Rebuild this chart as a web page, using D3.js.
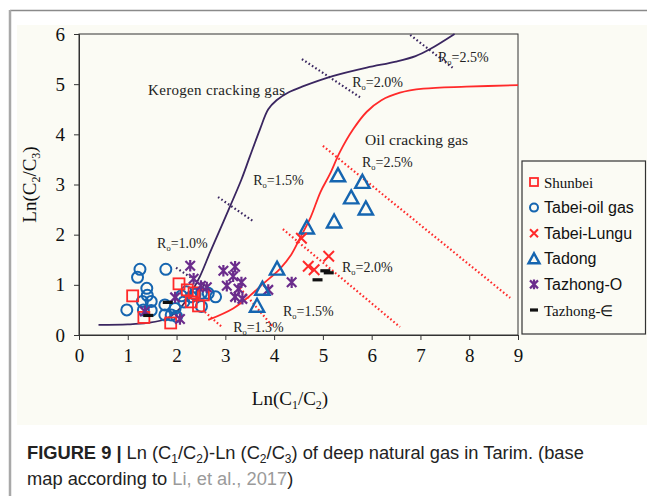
<!DOCTYPE html>
<html>
<head>
<meta charset="utf-8">
<script src="https://cdn.jsdelivr.net/npm/d3@7"></script>
<style>
  html, body { margin: 0; padding: 0; background: #ffffff; }
  svg { display: block; }
</style>
</head>
<body>
<svg id="chart" width="647" height="496"></svg>
<script>
// ---- data ----
const xTicks = [0, 1, 2, 3, 4, 5, 6, 7, 8, 9];
const yTicks = [0, 1, 2, 3, 4, 5, 6];

// [Ln(C1/C2), Ln(C2/C3)]
const shunbei = [[1.10, 0.78], [1.33, 0.35], [1.88, 0.24], [2.05, 1.02], [2.22, 0.90],
                 [2.36, 0.84], [2.30, 0.66], [2.45, 0.58], [2.55, 0.80]];
const tabeiOilGas = [[0.98, 0.50], [1.20, 1.15], [1.25, 1.31], [1.39, 0.93], [1.40, 0.79],
                     [1.30, 0.67], [1.48, 0.67], [1.32, 0.50], [1.48, 0.49], [1.78, 1.31],
                     [1.76, 0.60], [1.76, 0.40], [1.89, 0.40], [2.00, 0.37], [1.97, 0.53],
                     [2.10, 0.78], [2.20, 0.86], [2.30, 0.76], [2.38, 0.81], [2.51, 0.83],
                     [2.65, 0.83], [2.80, 0.76], [2.51, 0.57], [2.15, 0.66]];
const tabeiLungu = [[4.56, 1.93], [5.12, 1.57], [4.70, 1.37], [4.82, 1.30]];
const tadong = [[5.31, 3.18], [5.81, 3.05], [5.58, 2.74], [5.88, 2.52], [5.23, 2.26],
                [4.67, 2.14], [4.06, 1.32], [3.76, 0.92], [3.65, 0.58]];
const tazhongO = [[1.35, 0.47], [1.97, 0.75], [2.07, 0.32], [2.28, 1.38], [2.35, 1.12],
                  [2.50, 0.98], [2.62, 0.95], [2.96, 1.28], [3.20, 1.36], [3.16, 1.17],
                  [3.03, 0.98], [3.33, 1.05], [3.27, 0.92], [3.20, 0.76], [3.35, 0.72],
                  [3.88, 0.90], [4.36, 1.05]];
const tazhongCambrian = [[1.42, 0.39], [1.82, 0.65], [5.05, 1.28], [5.12, 1.24], [4.89, 1.10]];

// evolution trends of the two gas sources
const kerogenCurve = [[0.40, 0.20], [1.00, 0.21], [1.40, 0.24], [1.80, 0.33], [2.07, 0.53],
                      [2.27, 0.80], [2.48, 1.17], [2.68, 1.63], [2.89, 2.10], [3.09, 2.55],
                      [3.33, 3.10], [3.50, 3.55], [3.71, 4.10], [3.88, 4.50], [4.05, 4.68],
                      [4.30, 4.84], [4.60, 4.96], [5.20, 5.16], [5.90, 5.33], [6.50, 5.45],
                      [6.90, 5.56], [7.20, 5.70], [7.70, 6.00]];
const oilCurve = [[2.65, 0.30], [3.16, 0.53], [3.50, 0.78], [3.75, 1.00], [4.12, 1.32],
                  [4.35, 1.60], [4.53, 1.93], [4.75, 2.35], [4.95, 2.85], [5.14, 3.20],
                  [5.35, 3.65], [5.62, 4.10], [5.90, 4.45], [6.20, 4.68], [6.58, 4.83],
                  [7.06, 4.91], [7.94, 4.95], [9.00, 4.98]];

// vitrinite reflectance iso-lines: value, line ends, label anchor
const roKerogen = [
  { ro: "1.0", a: [1.99, 1.34], b: [2.62, 0.94], at: [1.60, 1.73] },
  { ro: "1.5", a: [2.85, 2.75], b: [3.57, 2.27], at: [3.57, 2.99] },
  { ro: "2.0", a: [4.57, 5.50], b: [5.76, 4.74], at: [5.60, 4.94] },
  { ro: "2.5", a: [6.79, 5.98], b: [7.67, 5.32], at: [7.36, 5.44] }
];
const roOil = [
  { ro: "1.3", a: [2.58, 0.46], b: [2.93, 0.16], at: [3.16, 0.06] },
  { ro: "1.5", a: [3.30, 0.94], b: [3.98, 0.16], at: [4.18, 0.38] },
  { ro: "2.0", a: [4.18, 2.11], b: [6.58, 0.16], at: [5.39, 1.26] },
  { ro: "2.5", a: [5.00, 3.77], b: [8.84, 0.74], at: [5.80, 3.35] }
];

const seriesNames = ["Shunbei", "Tabei-oil gas", "Tabei-Lungu", "Tadong", "Tazhong-O", "Tazhong-\u2208"];

// ---- drawing ----
const svg = d3.select("#chart");
const SERIF = "'Liberation Serif', 'Times New Roman', serif";
const SANS = "'Liberation Sans', Arial, sans-serif";
const RED = "#ff2a2a", BLUE = "#1565b0", PURPLE = "#6b2c8c", DARK = "#3a2660";

// page frame and figure panel
svg.append("rect").attr("x", 17).attr("y", 25).attr("width", 630).attr("height", 400).attr("fill", "#fbfbf4");
svg.append("line").attr("x1", 10).attr("x2", 647).attr("y1", 10.5).attr("y2", 10.5).attr("stroke", "#8a8a8a").attr("stroke-width", 1.5);
svg.append("line").attr("x1", 10).attr("x2", 10).attr("y1", 10).attr("y2", 496).attr("stroke", "#a8a8a8").attr("stroke-width", 2.5);

const x = d3.scaleLinear().domain([0, 9]).range([79, 518]);
const y = d3.scaleLinear().domain([0, 6]).range([335, 34]);

// axes
const gx = svg.append("g").attr("transform", `translate(0,${y(0)})`)
  .call(d3.axisBottom(x).tickValues(xTicks).tickSize(5).tickPadding(9).tickFormat(d3.format("d")));
const gy = svg.append("g").attr("transform", `translate(${x(0)},0)`)
  .call(d3.axisLeft(y).tickValues(yTicks).tickSize(5).tickPadding(9).tickFormat(d3.format("d")));
[gx, gy].forEach(g => {
  g.selectAll("text").attr("font-family", SERIF).attr("font-size", 19).attr("fill", "#111");
  g.selectAll("line").attr("stroke", "#333");
  g.select(".domain").attr("stroke", "#333");
});
svg.append("rect").attr("x", x(0)).attr("y", y(6)).attr("width", x(9) - x(0)).attr("height", y(0) - y(6))
  .attr("fill", "none").attr("stroke", "#333").attr("stroke-width", 1);

// axis titles
const xt = svg.append("text").attr("x", 290).attr("y", 405).attr("text-anchor", "middle")
  .attr("font-family", SERIF).attr("font-size", 19).attr("fill", "#111");
xt.append("tspan").text("Ln(C");
xt.append("tspan").attr("font-size", 12).attr("dy", 4).text("1");
xt.append("tspan").attr("dy", -4).text("/C");
xt.append("tspan").attr("font-size", 12).attr("dy", 4).text("2");
xt.append("tspan").attr("dy", -4).text(")");

const yt = svg.append("text").attr("transform", `translate(36,${(y(0) + y(6)) / 2}) rotate(-90)`)
  .attr("text-anchor", "middle").attr("font-family", SERIF).attr("font-size", 19).attr("fill", "#111");
yt.append("tspan").text("Ln(C");
yt.append("tspan").attr("font-size", 12).attr("dy", 4).text("2");
yt.append("tspan").attr("dy", -4).text("/C");
yt.append("tspan").attr("font-size", 12).attr("dy", 4).text("3");
yt.append("tspan").attr("dy", -4).text(")");

// Ro iso-lines
const plot = svg.append("g");
function roLines(list, color) {
  list.forEach(d => {
    plot.append("line").attr("x1", x(d.a[0])).attr("y1", y(d.a[1])).attr("x2", x(d.b[0])).attr("y2", y(d.b[1]))
      .attr("stroke", color).attr("stroke-width", 2.2).attr("stroke-dasharray", "1.6 2.4");
    const t = plot.append("text").attr("x", x(d.at[0])).attr("y", y(d.at[1]))
      .attr("font-family", SERIF).attr("font-size", 14).attr("fill", "#222");
    t.append("tspan").text("R");
    t.append("tspan").attr("font-size", 8.5).attr("dy", 3).text("o");
    t.append("tspan").attr("dy", -3).text("=" + d.ro + "%");
  });
}
roLines(roKerogen, DARK);
roLines(roOil, RED);

// trend curves
const line = d3.line().x(d => x(d[0])).y(d => y(d[1])).curve(d3.curveCatmullRom.alpha(0.5));
plot.append("path").datum(kerogenCurve).attr("d", line).attr("fill", "none").attr("stroke", DARK).attr("stroke-width", 1.8);
plot.append("path").datum(oilCurve).attr("d", line).attr("fill", "none").attr("stroke", RED).attr("stroke-width", 1.8);

plot.append("text").attr("x", 148).attr("y", 95).attr("font-family", SERIF).attr("font-size", 15)
  .attr("fill", "#222").attr("textLength", 137).attr("lengthAdjust", "spacing").text("Kerogen cracking gas");
plot.append("text").attr("x", 365).attr("y", 145).attr("font-family", SERIF).attr("font-size", 15.5)
  .attr("fill", "#222").attr("textLength", 103).attr("lengthAdjust", "spacing").text("Oil cracking gas");

// marker painters
const markers = {
  square: (g, s) => g.append("rect").attr("x", -s / 2).attr("y", -s / 2).attr("width", s).attr("height", s)
    .attr("fill", "none").attr("stroke", RED).attr("stroke-width", 1.8),
  circle: (g, s) => g.append("circle").attr("r", s / 2).attr("fill", "none").attr("stroke", BLUE).attr("stroke-width", 2),
  cross: (g, s) => g.append("path").attr("d", `M${-s / 2},${-s / 2}L${s / 2},${s / 2}M${-s / 2},${s / 2}L${s / 2},${-s / 2}`)
    .attr("stroke", RED).attr("stroke-width", 2),
  triangle: (g, s) => g.append("path").attr("d", `M0,${-s * 0.55}L${s * 0.55},${s * 0.45}L${-s * 0.55},${s * 0.45}Z`)
    .attr("fill", "none").attr("stroke", BLUE).attr("stroke-width", 2.4).attr("stroke-linejoin", "miter"),
  star: (g, s) => g.append("path").attr("d", `M${-s / 2},${-s / 2}L${s / 2},${s / 2}M${-s / 2},${s / 2}L${s / 2},${-s / 2}M0,${-s * 0.6}L0,${s * 0.6}`)
    .attr("stroke", PURPLE).attr("stroke-width", 2.2),
  dash: (g, s) => g.append("rect").attr("x", -s / 2).attr("y", -1.6).attr("width", s).attr("height", 3.2).attr("fill", "#111")
};

const groups = [
  { data: tabeiOilGas, m: "circle", s: 11 },
  { data: shunbei, m: "square", s: 11 },
  { data: tazhongO, m: "star", s: 9.5 },
  { data: tadong, m: "triangle", s: 13 },
  { data: tabeiLungu, m: "cross", s: 10.5 },
  { data: tazhongCambrian, m: "dash", s: 10 }
];
groups.forEach(gr => {
  plot.append("g").selectAll("g").data(gr.data).join("g")
    .attr("transform", d => `translate(${x(d[0])},${y(d[1])})`)
    .each(function () { markers[gr.m](d3.select(this), gr.s); });
});

// legend
const lg = svg.append("g");
lg.append("rect").attr("x", 522).attr("y", 161).attr("width", 123.5).attr("height", 173)
  .attr("fill", "#fbfbf4").attr("stroke", "#333").attr("stroke-width", 1.2);
const legendMarks = ["square", "circle", "cross", "triangle", "star", "dash"];
const legendRow = d3.scalePoint().domain(seriesNames).range([182, 310]);
seriesNames.forEach((name, i) => {
  const cy = legendRow(name);
  const g = lg.append("g").attr("transform", `translate(534,${cy})`);
  markers[legendMarks[i]](g, legendMarks[i] === "triangle" ? 10 : 8);
  const serifName = (i === 0 || i === 5);
  lg.append("text").attr("x", 544).attr("y", cy + 5.5)
    .attr("font-family", serifName ? SERIF : SANS).attr("font-size", serifName ? 15 : 16)
    .attr("fill", "#111").text(name);
});

// caption
const cap = svg.append("text").attr("x", 27).attr("y", 459).attr("font-family", SANS).attr("font-size", 18.3).attr("fill", "#222");
cap.append("tspan").attr("font-weight", "bold").text("FIGURE 9 | ");
cap.append("tspan").text("Ln (C");
cap.append("tspan").attr("font-size", 12).attr("dy", 4).text("1");
cap.append("tspan").attr("dy", -4).text("/C");
cap.append("tspan").attr("font-size", 12).attr("dy", 4).text("2");
cap.append("tspan").attr("dy", -4).text(")-Ln (C");
cap.append("tspan").attr("font-size", 12).attr("dy", 4).text("2");
cap.append("tspan").attr("dy", -4).text("/C");
cap.append("tspan").attr("font-size", 12).attr("dy", 4).text("3");
cap.append("tspan").attr("dy", -4).text(") of deep natural gas in Tarim. (base");
const cap2 = svg.append("text").attr("x", 27).attr("y", 485).attr("font-family", SANS).attr("font-size", 18.3).attr("fill", "#222");
cap2.append("tspan").text("map according to ");
cap2.append("tspan").attr("fill", "#9a9a9a").text("Li, et al., 2017");
cap2.append("tspan").text(")");
</script>
</body>
</html>
